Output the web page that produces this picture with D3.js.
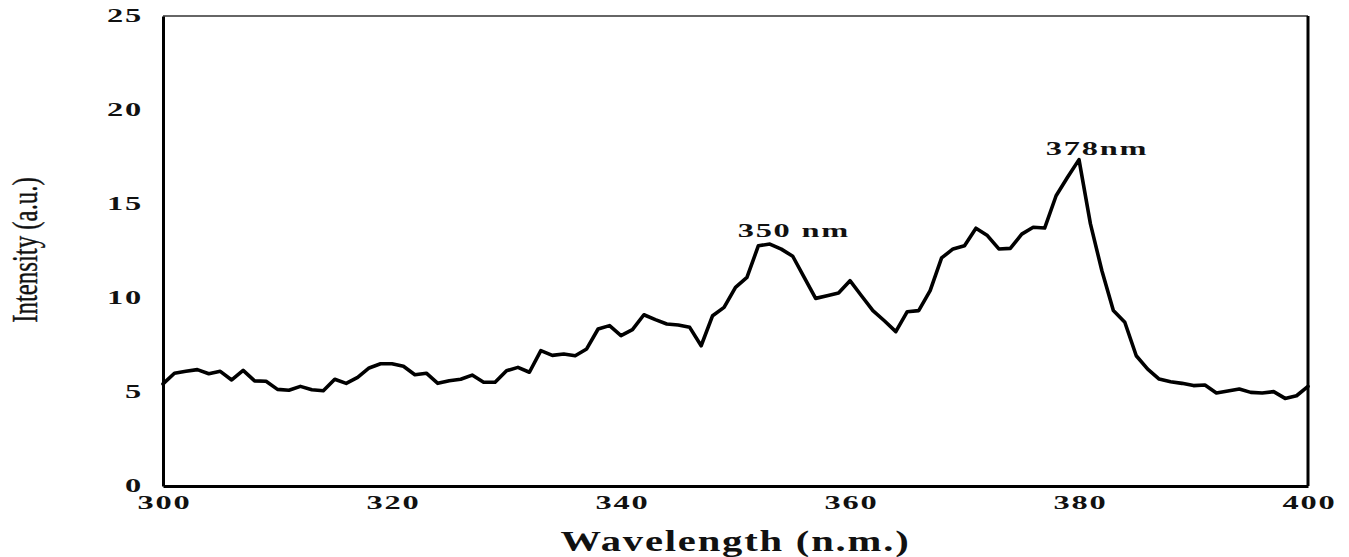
<!DOCTYPE html>
<html>
<head>
<meta charset="utf-8">
<script src="https://cdn.jsdelivr.net/npm/d3@7"></script>
<style>
  html, body { margin: 0; padding: 0; background: #fff; }
  svg { display: block; }
</style>
</head>
<body>
<svg id="chart" width="1349" height="557"></svg>
<script>
// Emission spectrum, 1 nm steps from 300 to 400 nm
const wavelengths = d3.range(300, 401);
const intensity = [
  5.43, 6.00, 6.10, 6.19, 5.97, 6.10, 5.64, 6.15, 5.59, 5.57,
  5.14, 5.09, 5.30, 5.12, 5.07, 5.68, 5.46, 5.78, 6.28, 6.50,
  6.50, 6.37, 5.92, 6.00, 5.46, 5.60, 5.68, 5.90, 5.52, 5.52,
  6.13, 6.31, 6.05, 7.20, 6.95, 7.02, 6.93, 7.29, 8.35, 8.53,
  8.00, 8.32, 9.11, 8.85, 8.62, 8.56, 8.44, 7.46, 9.06, 9.50,
  10.57, 11.10, 12.78, 12.87, 12.60, 12.22, 11.10, 9.98, 10.12, 10.27,
  10.92, 10.12, 9.33, 8.79, 8.21, 9.27, 9.33, 10.39, 12.13, 12.61,
  12.78, 13.71, 13.32, 12.61, 12.64, 13.40, 13.76, 13.72, 15.44, 16.42,
  17.36, 13.94, 11.45, 9.33, 8.71, 6.93, 6.22, 5.69, 5.55, 5.46,
  5.34, 5.37, 4.95, 5.05, 5.16, 4.98, 4.95, 5.02, 4.66, 4.80,
  5.30
];
const xTicks = [300, 320, 340, 360, 380, 400];
const yTicks = [0, 5, 10, 15, 20, 25];
const peakAt = [353, 380];
const peakLabels = ["350 nm", "378nm"];

(function draw() {
  const svg = d3.select("#chart");
  const plotLeft = 163, plotRight = 1308, plotTop = 16, plotBottom = 486;

  const x = d3.scaleLinear().domain([300, 400]).range([plotLeft, plotRight]);
  const y = d3.scaleLinear().domain([0, 25]).range([plotBottom, plotTop]);

  const serif = "'Liberation Serif', 'Times New Roman', serif";
  const sx = 1.8;   // wide bold numerals

  // frame: thin top edge, heavy right edge
  svg.append("line")
    .attr("x1", plotLeft).attr("x2", plotRight).attr("y1", plotTop).attr("y2", plotTop)
    .attr("stroke", "#333").attr("stroke-width", 1.6);
  svg.append("line")
    .attr("x1", plotRight).attr("x2", plotRight).attr("y1", plotTop).attr("y2", plotBottom)
    .attr("stroke", "#000").attr("stroke-width", 3);

  // axes
  const gx = svg.append("g").attr("transform", `translate(0,${plotBottom})`)
    .call(d3.axisBottom(x).tickValues(xTicks).tickSize(0).tickFormat(d3.format("d")));
  const gy = svg.append("g").attr("transform", `translate(${plotLeft},0)`)
    .call(d3.axisLeft(y).tickValues(yTicks).tickSize(0).tickFormat(d3.format("d")));

  [gx, gy].forEach(g => {
    g.select(".domain").attr("stroke", "#000").attr("stroke-width", 3);
    g.selectAll("text")
      .attr("font-family", serif)
      .attr("font-weight", "bold")
      .attr("font-size", 18)
      .attr("fill", "#111")
      .style("letter-spacing", "1px");
  });
  gx.selectAll("text")
    .attr("y", 23).attr("dy", 0).attr("x", 1 / sx)
    .attr("transform", `scale(${sx},1)`);
  gy.selectAll("text")
    .attr("x", -20 / sx).attr("dy", "0.3em")
    .attr("transform", `scale(${sx},1)`);

  // spectrum line
  const pts = wavelengths.map((w, i) => [w, intensity[i]]);
  svg.append("path")
    .datum(pts)
    .attr("fill", "none")
    .attr("stroke", "#000")
    .attr("stroke-width", 3.6)
    .attr("stroke-linejoin", "round")
    .attr("stroke-linecap", "round")
    .attr("d", d3.line().x(d => x(d[0])).y(d => y(d[1])));

  // peak annotations
  const offsets = [[24, -7], [18, -5]];
  peakAt.forEach((w, i) => {
    const v = intensity[wavelengths.indexOf(w)];
    const px = x(w) + offsets[i][0], py = y(v) + offsets[i][1];
    svg.append("text")
      .attr("transform", `translate(${px},${py}) scale(${sx},1)`)
      .attr("text-anchor", "middle")
      .attr("font-family", serif)
      .attr("font-weight", "bold")
      .attr("font-size", 18)
      .attr("fill", "#111")
      .style("letter-spacing", "1px")
      .text(peakLabels[i]);
  });

  // axis titles
  svg.append("text")
    .attr("transform", `translate(${(plotLeft + plotRight) / 2},551) scale(1.4,1)`)
    .attr("text-anchor", "middle")
    .attr("font-family", serif)
    .attr("font-weight", "bold")
    .attr("font-size", 29)
    .attr("fill", "#111")
    .style("letter-spacing", "1.3px")
    .text("Wavelength (n.m.)");

  svg.append("text")
    .attr("transform", `translate(37,250) rotate(-90) scale(0.69,1)`)
    .attr("text-anchor", "middle")
    .attr("font-family", serif)
    .attr("font-size", 36)
    .attr("fill", "#111")
    .attr("stroke", "#111")
    .attr("stroke-width", 0.4)
    .text("Intensity (a.u.)");
})();
</script>
</body>
</html>
